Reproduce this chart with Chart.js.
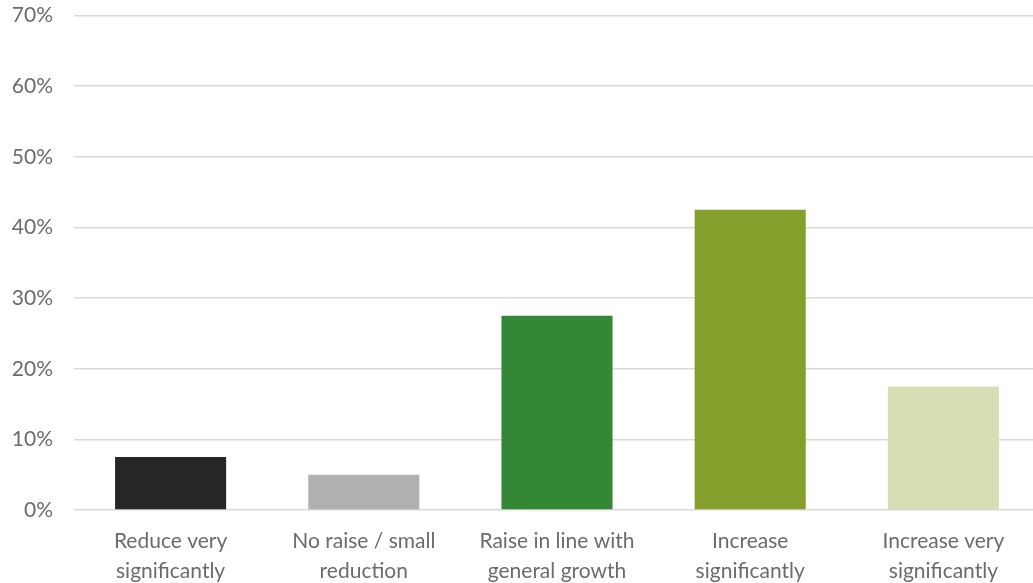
<!DOCTYPE html>
<html>
<head>
<meta charset="utf-8">
<script src="https://cdn.jsdelivr.net/npm/chart.js@4/dist/chart.umd.min.js"></script>
<style>
  html, body { margin: 0; padding: 0; background: #fff; overflow: hidden; }
  #wrap { width: 1033px; height: 583px; overflow: hidden; position: relative; }
  #barchart { position: absolute; left: 0; top: -18px; }
</style>
</head>
<body>
<div id="wrap"><canvas id="barchart" width="1040" height="601"></canvas></div>
<script>
const categories = [
  ['Reduce very', 'significantly'],
  ['No raise / small', 'reduction'],
  ['Raise in line with', 'general growth'],
  ['Increase', 'significantly'],
  ['Increase very', 'significantly']
];
const shares = [7.5, 5, 27.5, 42.5, 17.5];
const barColors = ['#262626', '#b0b0b0', '#348735', '#849f2c', '#d6dfb3'];
const yTicks = [0, 10, 20, 30, 40, 50, 60, 70];

const font = { family: 'Lato, "Open Sans", sans-serif', size: 21 };

new Chart(document.getElementById('barchart').getContext('2d'), {
  type: 'bar',
  data: {
    labels: categories,
    datasets: [{
      data: shares,
      backgroundColor: barColors,
      borderWidth: 0,
      categoryPercentage: 1,
      barPercentage: 0.575
    }]
  },
  options: {
    responsive: false,
    animation: false,
    layout: { padding: 0 },
    plugins: { legend: { display: false }, tooltip: { enabled: false } },
    scales: {
      x: {
        grid: { display: false },
        border: { display: false },
        ticks: { color: '#6b6b6b', font: { ...font, lineHeight: 1.4 }, padding: 9, maxRotation: 0 },
        afterFit: s => { s.height = 73; }
      },
      y: {
        min: 0,
        max: 70,
        afterBuildTicks: s => { s.ticks = yTicks.map(v => ({ value: v })); },
        grid: { color: '#d9d9d9', lineWidth: 1.5, drawTicks: false },
        border: { display: false },
        ticks: { color: '#6b6b6b', font: font, padding: 21, callback: v => v + '%' },
        afterFit: s => { s.width = 74; }
      }
    }
  }
});
</script>
</body>
</html>
